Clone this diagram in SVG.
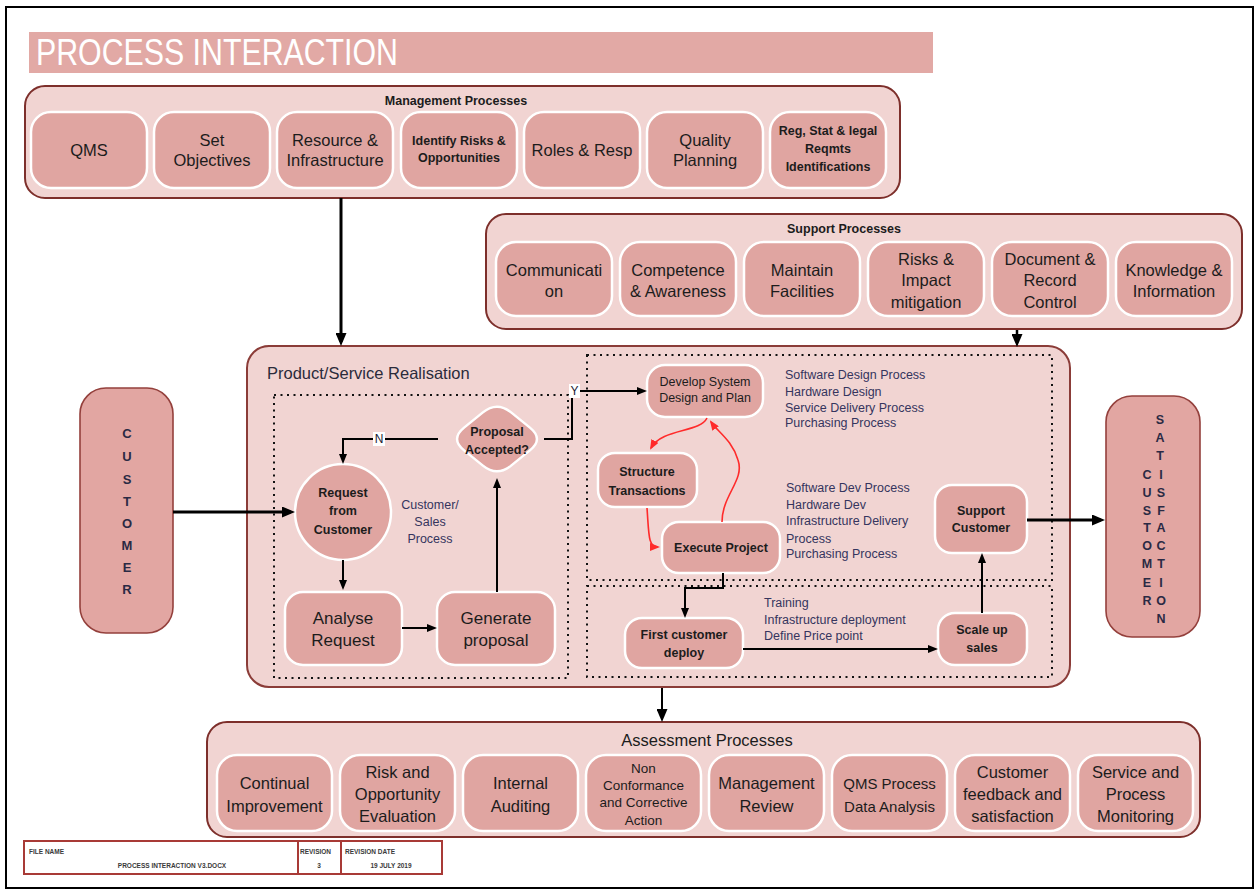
<svg xmlns="http://www.w3.org/2000/svg" width="1258" height="892" viewBox="0 0 1258 892">
  <style>
    .cont { fill: #f1d4d2; stroke: #7d2f2b; stroke-width: 2; }
    .box { fill: #e0a5a1; stroke: #ffffff; stroke-width: 2.5; }
    .side { fill: #e2a6a2; stroke: #94403c; stroke-width: 1.6; }
    .t { font-family: "Liberation Sans", Arial, sans-serif; fill: #1c1c1c; text-anchor: middle; dominant-baseline: central; }
    .big { font-size: 16.5px; }
    .mid { font-size: 15px; }
    .sm { font-size: 12.5px; font-weight: bold; }
    .hdr { font-size: 12.5px; font-weight: bold; }
    .note { font-family: "Liberation Sans", Arial, sans-serif; font-size: 12.5px; fill: #35355e; dominant-baseline: central; }
    .letter { font-size: 13px; font-weight: bold; fill: #2a2a44; }
    .ln { fill: none; stroke: #000; stroke-width: 2; }
    .red { fill: none; stroke: #ff2a2a; stroke-width: 1.6; }
    .dot { fill: none; stroke: #111; stroke-width: 2; stroke-dasharray: 2 4.5; }
    .ft { font-family: "Liberation Sans", Arial, sans-serif; font-size: 6.5px; font-weight: bold; fill: #3a3a3a; dominant-baseline: central; }
  </style>
  <defs>
    <marker id="ah" markerWidth="10" markerHeight="8" refX="7" refY="4" orient="auto" markerUnits="userSpaceOnUse">
      <path d="M0,0 L10,4 L0,8 Z" fill="#000"/>
    </marker>
    <marker id="ahb" markerWidth="13" markerHeight="11" refX="9" refY="5.5" orient="auto" markerUnits="userSpaceOnUse">
      <path d="M0,0 L13,5.5 L0,11 Z" fill="#000"/>
    </marker>
    <marker id="ahr" markerWidth="10" markerHeight="8" refX="8" refY="4" orient="auto" markerUnits="userSpaceOnUse">
      <path d="M0,0 L10,4 L0,8 Z" fill="#ff2a2a"/>
    </marker>
  </defs>

  <rect x="0" y="0" width="1258" height="892" fill="#fff"/>
  <!-- page frame -->
  <rect x="6" y="7" width="1247" height="881" fill="none" stroke="#000" stroke-width="2"/>

  <!-- title bar -->
  <g id="title">
    <rect x="29" y="32" width="904" height="41" fill="#e2a9a5"/>
    <text x="36" y="52" class="t" style="text-anchor:start;fill:#fff;font-size:37px" textLength="362" lengthAdjust="spacingAndGlyphs">PROCESS INTERACTION</text>
  </g>

  <!-- Management processes -->
  <g id="management">
    <rect class="cont" x="25" y="86" width="875" height="112" rx="20"/>
    <text class="t hdr" x="456" y="101">Management Processes</text>
  </g>
  <g id="m-qms"><rect class="box" x="31" y="112" width="116" height="76" rx="20"/><text class="t big" x="89" y="150">QMS</text></g>
  <g id="m-objectives"><rect class="box" x="154" y="112" width="116" height="76" rx="20"/><text class="t big" x="212" y="140">Set</text><text class="t big" x="212" y="160">Objectives</text></g>
  <g id="m-resource"><rect class="box" x="277" y="112" width="116" height="76" rx="20"/><text class="t big" x="335" y="140">Resource &amp;</text><text class="t big" x="335" y="160">Infrastructure</text></g>
  <g id="m-risks"><rect class="box" x="401" y="112" width="116" height="76" rx="20"/><text class="t sm" x="459" y="141">Identify Risks &amp;</text><text class="t sm" x="459" y="158">Opportunities</text></g>
  <g id="m-roles"><rect class="box" x="524" y="112" width="116" height="76" rx="20"/><text class="t big" x="582" y="150">Roles &amp; Resp</text></g>
  <g id="m-quality"><rect class="box" x="647" y="112" width="116" height="76" rx="20"/><text class="t big" x="705" y="140">Quality</text><text class="t big" x="705" y="160">Planning</text></g>
  <g id="m-reqmts"><rect class="box" x="770" y="112" width="116" height="76" rx="20"/><text class="t sm" x="828" y="131">Reg, Stat &amp; legal</text><text class="t sm" x="828" y="149">Reqmts</text><text class="t sm" x="828" y="167">Identifications</text></g>

  <!-- Support processes -->
  <g id="support">
    <rect class="cont" x="486" y="214" width="756" height="115" rx="20"/>
    <text class="t hdr" x="844" y="229">Support Processes</text>
  </g>
  <g id="s-communication"><rect class="box" x="496" y="242" width="116" height="74" rx="20"/><text class="t big" x="554" y="270">Communicati</text><text class="t big" x="554" y="291">on</text></g>
  <g id="s-competence"><rect class="box" x="620" y="242" width="116" height="74" rx="20"/><text class="t big" x="678" y="270">Competence</text><text class="t big" x="678" y="291">&amp; Awareness</text></g>
  <g id="s-facilities"><rect class="box" x="744" y="242" width="116" height="74" rx="20"/><text class="t big" x="802" y="270">Maintain</text><text class="t big" x="802" y="291">Facilities</text></g>
  <g id="s-impact"><rect class="box" x="868" y="242" width="116" height="74" rx="20"/><text class="t big" x="926" y="259">Risks &amp;</text><text class="t big" x="926" y="280">Impact</text><text class="t big" x="926" y="302">mitigation</text></g>
  <g id="s-document"><rect class="box" x="992" y="242" width="116" height="74" rx="20"/><text class="t big" x="1050" y="259">Document &amp;</text><text class="t big" x="1050" y="280">Record</text><text class="t big" x="1050" y="302">Control</text></g>
  <g id="s-knowledge"><rect class="box" x="1116" y="242" width="116" height="74" rx="20"/><text class="t big" x="1174" y="270">Knowledge &amp;</text><text class="t big" x="1174" y="291">Information</text></g>

  <!-- Product / service realisation -->
  <g id="realisation">
    <rect class="cont" x="247" y="346" width="823" height="341" rx="22" style="stroke:#8b3c38"/>
    <text class="t" x="267" y="373" style="text-anchor:start;font-size:16.5px;fill:#2b2b3b">Product/Service Realisation</text>
    <rect class="dot" x="274" y="395" width="294" height="283"/>
    <rect class="dot" x="587" y="355" width="465" height="225"/>
    <rect class="dot" x="587" y="586" width="465" height="91"/>
  </g>

  <!-- Customer and satisfaction columns -->
  <g id="customer">
    <rect class="side" x="80" y="388" width="93" height="245" rx="26"/>
    <g class="t letter">
      <text x="127" y="433">C</text><text x="127" y="456">U</text><text x="127" y="479">S</text><text x="127" y="501">T</text>
      <text x="127" y="523">O</text><text x="127" y="545">M</text><text x="127" y="567">E</text><text x="127" y="589">R</text>
    </g>
  </g>
  <g id="satisfaction">
    <rect class="side" x="1106" y="396" width="94" height="241" rx="26"/>
    <g class="t letter" style="font-size:12.5px">
      <text x="1160" y="420">S</text><text x="1160" y="438">A</text><text x="1160" y="456">T</text>
      <text x="1147" y="475">C</text><text x="1161" y="475">I</text>
      <text x="1147" y="493">U</text><text x="1161" y="493">S</text>
      <text x="1147" y="511">S</text><text x="1161" y="511">F</text>
      <text x="1147" y="528">T</text><text x="1161" y="528">A</text>
      <text x="1147" y="546">O</text><text x="1161" y="546">C</text>
      <text x="1147" y="564">M</text><text x="1161" y="564">T</text>
      <text x="1147" y="583">E</text><text x="1161" y="583">I</text>
      <text x="1147" y="601">R</text><text x="1161" y="601">O</text>
      <text x="1161" y="619">N</text>
    </g>
  </g>

  <!-- Sales flow -->
  <g id="request"><circle class="box" cx="343" cy="512" r="48"/><text class="t sm" x="343" y="493">Request</text><text class="t sm" x="343" y="511">from</text><text class="t sm" x="343" y="530">Customer</text></g>
  <g id="sales-note"><text class="note" x="430" y="505" text-anchor="middle">Customer/</text><text class="note" x="430" y="522" text-anchor="middle">Sales</text><text class="note" x="430" y="539" text-anchor="middle">Process</text></g>
  <g id="analyse"><rect class="box" x="285" y="592" width="117" height="73" rx="18"/><text class="t" x="343" y="618" style="font-size:17px">Analyse</text><text class="t" x="343" y="640" style="font-size:17px">Request</text></g>
  <g id="generate"><rect class="box" x="437" y="592" width="118" height="73" rx="18"/><text class="t" x="496" y="618" style="font-size:17px">Generate</text><text class="t" x="496" y="640" style="font-size:17px">proposal</text></g>
  <g id="decision">
    <path class="box" d="M482.9,412.4 Q497,401 511.1,412.4 L529.9,427.6 Q544,439 529.9,450.4 L511.1,465.6 Q497,477 482.9,465.6 L464.1,450.4 Q450,439 464.1,427.6 Z"/>
    <text class="t sm" x="497" y="432">Proposal</text><text class="t sm" x="497" y="450">Accepted?</text>
  </g>

  <!-- Delivery flow -->
  <g id="develop"><rect class="box" x="647" y="365" width="116" height="52" rx="18"/><text class="t" x="705" y="382" style="font-size:12.5px">Develop System</text><text class="t" x="705" y="398" style="font-size:12.5px">Design and Plan</text></g>
  <g id="design-note"><text class="note" x="785" y="375">Software Design Process</text><text class="note" x="785" y="392">Hardware Design</text><text class="note" x="785" y="408">Service Delivery Process</text><text class="note" x="785" y="423">Purchasing Process</text></g>
  <g id="structure"><rect class="box" x="598" y="453" width="99" height="54" rx="17"/><text class="t sm" x="647" y="472">Structure</text><text class="t sm" x="647" y="491">Transactions</text></g>
  <g id="execute"><rect class="box" x="662" y="522" width="118" height="51" rx="17"/><text class="t sm" x="721" y="548">Execute Project</text></g>
  <g id="dev-note"><text class="note" x="786" y="488">Software Dev Process</text><text class="note" x="786" y="505">Hardware Dev</text><text class="note" x="786" y="521">Infrastructure Delivery</text><text class="note" x="786" y="539">Process</text><text class="note" x="786" y="554">Purchasing Process</text></g>
  <g id="support-customer"><rect class="box" x="935" y="485" width="92" height="68" rx="17"/><text class="t sm" x="981" y="511">Support</text><text class="t sm" x="981" y="528">Customer</text></g>
  <g id="first-deploy"><rect class="box" x="625" y="618" width="118" height="50" rx="17"/><text class="t sm" x="684" y="635">First customer</text><text class="t sm" x="684" y="653">deploy</text></g>
  <g id="deploy-note"><text class="note" x="764" y="603">Training</text><text class="note" x="764" y="620">Infrastructure deployment</text><text class="note" x="764" y="636">Define Price point</text></g>
  <g id="scale-up"><rect class="box" x="938" y="613" width="89" height="52" rx="17"/><text class="t sm" x="982" y="630">Scale up</text><text class="t sm" x="982" y="648">sales</text></g>

  <!-- Assessment processes -->
  <g id="assessment">
    <rect class="cont" x="207" y="722" width="993" height="115" rx="20"/>
    <text class="t" x="707" y="740" style="font-size:16.5px">Assessment Processes</text>
  </g>
  <g id="a-improvement"><rect class="box" x="217" y="755" width="115" height="76" rx="20"/><text class="t big" x="274.5" y="783">Continual</text><text class="t big" x="274.5" y="806">Improvement</text></g>
  <g id="a-risk"><rect class="box" x="340" y="755" width="115" height="76" rx="20"/><text class="t big" x="397.5" y="772">Risk and</text><text class="t big" x="397.5" y="794">Opportunity</text><text class="t big" x="397.5" y="816">Evaluation</text></g>
  <g id="a-audit"><rect class="box" x="463" y="755" width="115" height="76" rx="20"/><text class="t big" x="520.5" y="783">Internal</text><text class="t big" x="520.5" y="806">Auditing</text></g>
  <g id="a-nonconformance"><rect class="box" x="586" y="755" width="115" height="76" rx="20"/><text class="t" x="643.5" y="768" style="font-size:13.5px">Non</text><text class="t" x="643.5" y="785" style="font-size:13.5px">Conformance</text><text class="t" x="643.5" y="802" style="font-size:13.5px">and Corrective</text><text class="t" x="643.5" y="820" style="font-size:13.5px">Action</text></g>
  <g id="a-review"><rect class="box" x="709" y="755" width="115" height="76" rx="20"/><text class="t big" x="766.5" y="783">Management</text><text class="t big" x="766.5" y="806">Review</text></g>
  <g id="a-analysis"><rect class="box" x="832" y="755" width="115" height="76" rx="20"/><text class="t mid" x="889.5" y="783">QMS Process</text><text class="t mid" x="889.5" y="806">Data Analysis</text></g>
  <g id="a-feedback"><rect class="box" x="955" y="755" width="115" height="76" rx="20"/><text class="t big" x="1012.5" y="772">Customer</text><text class="t big" x="1012.5" y="794">feedback and</text><text class="t big" x="1012.5" y="816">satisfaction</text></g>
  <g id="a-monitoring"><rect class="box" x="1078" y="755" width="115" height="76" rx="20"/><text class="t big" x="1135.5" y="772">Service and</text><text class="t big" x="1135.5" y="794">Process</text><text class="t big" x="1135.5" y="816">Monitoring</text></g>

  <!-- connectors -->
  <g id="connectors">
    <path class="ln" d="M341,198 V342" style="stroke-width:3" marker-end="url(#ahb)"/>
    <path class="ln" d="M1017,330 V343" style="stroke-width:2.5" marker-end="url(#ahb)"/>
    <path class="ln" d="M662,688 V718" marker-end="url(#ahb)"/>
    <path class="ln" d="M173,512 H291" style="stroke-width:3" marker-end="url(#ahb)"/>
    <path class="ln" d="M343,560 V587" marker-end="url(#ah)"/>
    <path class="ln" d="M402,628 H434" marker-end="url(#ah)"/>
    <path class="ln" d="M497,592 V481" marker-end="url(#ah)"/>
    <path class="ln" d="M438,439 H343 V461" marker-end="url(#ah)"/>
    <path class="ln" d="M544,439 H572 V391 H644" marker-end="url(#ah)"/>
    <path class="ln" d="M723,573 V588 H685 V615" marker-end="url(#ah)"/>
    <path class="ln" d="M743,649 H935" marker-end="url(#ah)"/>
    <path class="ln" d="M982,613 V556" marker-end="url(#ah)"/>
    <path class="ln" d="M1027,520 H1101" style="stroke-width:3" marker-end="url(#ahb)"/>
    <path class="red" d="M707,418 C700,433 662,428 651,448" marker-end="url(#ahr)"/>
    <path class="red" d="M647,508 C649,535 648,547 658,547" marker-end="url(#ahr)"/>
    <path class="red" d="M722,522 C722,495 745,480 738,460 C732,440 718,432 711,422" marker-end="url(#ahr)"/>
    <rect x="373" y="432" width="12" height="14" fill="#fff"/>
    <text class="t" x="379" y="439" style="font-size:12px;fill:#223">N</text>
    <rect x="569" y="384" width="11" height="14" fill="#fff"/>
    <text class="t" x="574.5" y="391" style="font-size:12px;fill:#223">Y</text>
  </g>

  <!-- document footer -->
  <g id="footer">
    <rect x="24" y="841" width="418" height="33" fill="#fff" stroke="#a83a36" stroke-width="2"/>
    <line x1="298" y1="841" x2="298" y2="874" stroke="#a83a36" stroke-width="2"/>
    <line x1="341" y1="841" x2="341" y2="874" stroke="#a83a36" stroke-width="2"/>
    <text class="ft" x="29" y="851">FILE NAME</text>
    <text class="ft" x="172" y="865" text-anchor="middle">PROCESS INTERACTION V3.DOCX</text>
    <text class="ft" x="300" y="851">REVISION</text>
    <text class="ft" x="319" y="865" text-anchor="middle">3</text>
    <text class="ft" x="345" y="851">REVISION DATE</text>
    <text class="ft" x="391" y="865" text-anchor="middle">19 JULY 2019</text>
  </g>
</svg>
